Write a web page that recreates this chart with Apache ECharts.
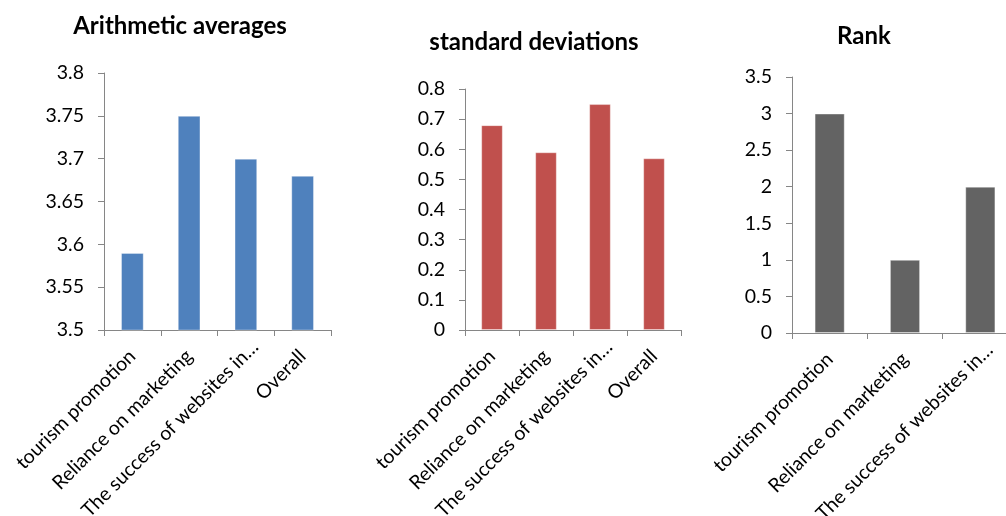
<!DOCTYPE html>
<html>
<head>
<meta charset="utf-8">
<script src="https://cdn.jsdelivr.net/npm/echarts@6/dist/echarts.min.js"></script>
<style>
  html, body { margin: 0; padding: 0; background: #fff; }
  #chart { width: 1006px; height: 516px; }
</style>
</head>
<body>
<div id="chart"></div>
<script>
// Categories and values for the three panels
const categories = ['tourism promotion', 'Reliance on marketing', 'The success of websites in\u2026', 'Overall'];
const rankCategories = ['tourism promotion', 'Reliance on marketing', 'The success of websites in\u2026'];
const averages = [3.59, 3.75, 3.70, 3.68];
const deviations = [0.68, 0.59, 0.75, 0.57];
const ranks = [3, 1, 2];
const titles = ['Arithmetic averages', 'standard deviations', 'Rank'];

const FONT = 'Lato, Carlito, "Open Sans", sans-serif';
const AXIS_GREY = '#868686';
const TEXT = '#000000';

const grids = [
  { left: 104, top: 73, width: 227, height: 257 },
  { left: 465, top: 89, width: 216, height: 241 },
  { left: 792, top: 77, width: 226, height: 256 }
].map(g => Object.assign(g, { containLabel: false, outerBoundsMode: 'none' }));

// truncated labels sit a little further along their slant
function axisData(list) {
  return list.map(name => name.endsWith('\u2026')
    ? { value: name, textStyle: { padding: [0, -13, 0, 0] } }
    : name);
}

function xAxis(idx, data) {
  return {
    type: 'category', gridIndex: idx, data: axisData(data),
    boundaryGap: true,
    axisLine: { lineStyle: { color: AXIS_GREY, width: 1 } },
    axisTick: { show: true, length: 6, alignWithLabel: false, lineStyle: { color: AXIS_GREY } },
    axisLabel: { rotate: 45, interval: 0, margin: 23, color: TEXT, fontFamily: FONT, fontSize: 19.5 }
  };
}
function yAxis(idx, min, max, interval) {
  return {
    type: 'value', gridIndex: idx, min: min, max: max, interval: interval,
    splitLine: { show: false },
    axisLine: { show: true, lineStyle: { color: AXIS_GREY, width: 1 } },
    axisTick: { show: true, length: 6, lineStyle: { color: AXIS_GREY } },
    axisLabel: { margin: 20, color: TEXT, fontFamily: FONT, fontSize: 19.5 }
  };
}
function barSeries(idx, data, color) {
  return {
    type: 'bar', xAxisIndex: idx, yAxisIndex: idx, data: data,
    barWidth: '40%',
    itemStyle: { color: color, borderColor: 'rgba(255,255,255,0.35)', borderWidth: 1 },
    silent: true
  };
}

const chart = echarts.init(document.getElementById('chart'), null, { renderer: 'canvas' });
chart.setOption({
  backgroundColor: '#ffffff',
  animation: false,
  title: [
    { text: titles[0], left: 175, top: 9, textAlign: 'center' },
    { text: titles[1], left: 529, top: 25, textAlign: 'center' },
    { text: titles[2], left: 859, top: 19, textAlign: 'center' }
  ].map(t => Object.assign(t, {
    textStyle: { fontFamily: FONT, fontWeight: 'bold', fontSize: 24, color: TEXT }
  })),
  grid: grids,
  xAxis: [xAxis(0, categories), xAxis(1, categories), xAxis(2, rankCategories)],
  yAxis: [yAxis(0, 3.5, 3.8, 0.05), yAxis(1, 0, 0.8, 0.1), yAxis(2, 0, 3.5, 0.5)],
  series: [
    barSeries(0, averages, '#4F81BD'),
    barSeries(1, deviations, '#C0504D'),
    barSeries(2, ranks, '#636363')
  ]
});
</script>
</body>
</html>
